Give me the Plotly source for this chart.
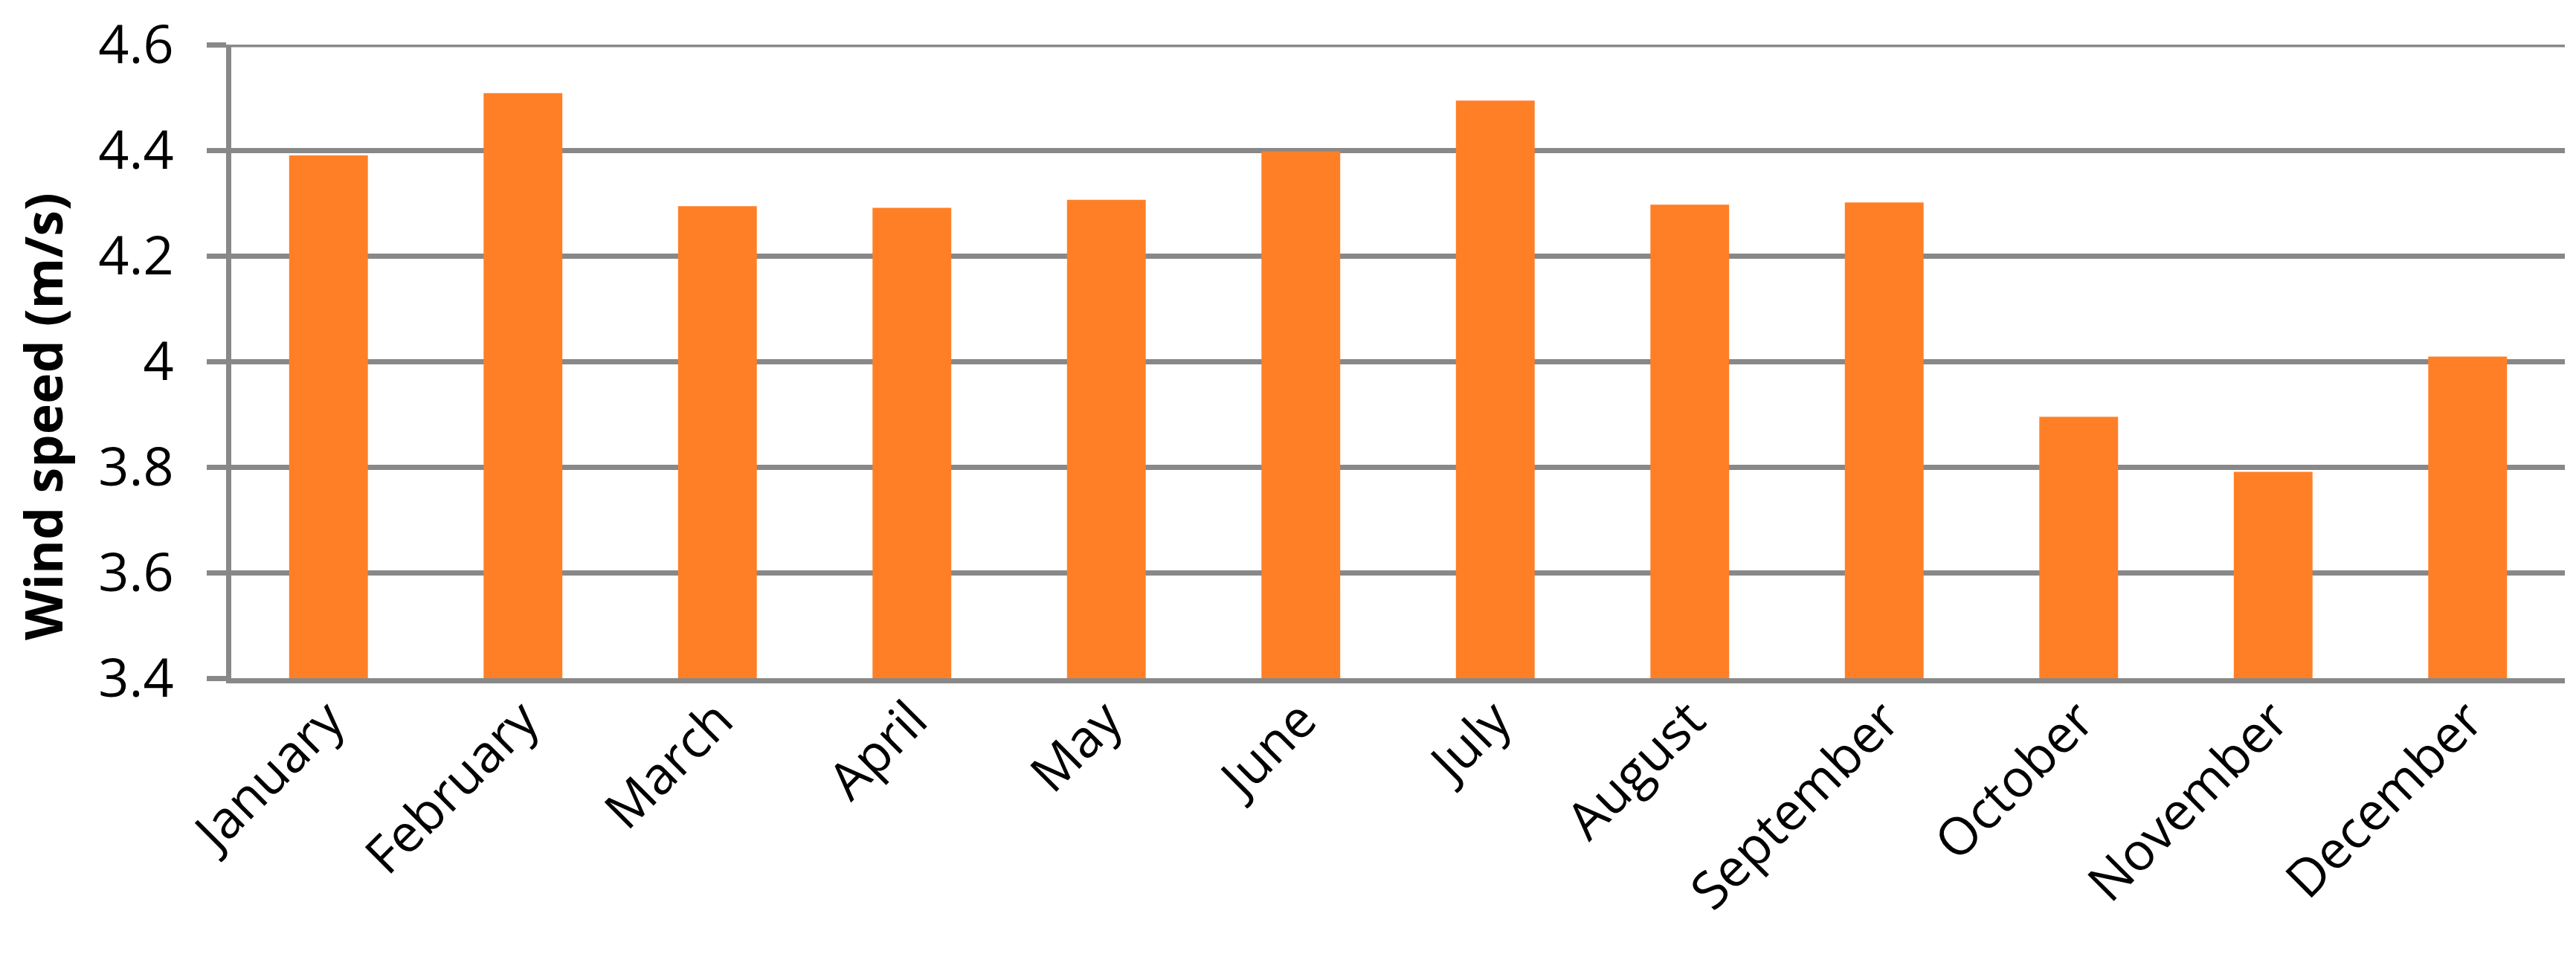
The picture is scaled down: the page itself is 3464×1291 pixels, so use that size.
import plotly.graph_objects as go

meses = ['January', 'February', 'March', 'April', 'May', 'June',
         'July', 'August', 'September', 'October', 'November', 'December']
vento = [4.39, 4.508, 4.294, 4.291, 4.306, 4.398,
         4.494, 4.297, 4.301, 3.895, 3.791, 4.009]
ticks_y = [3.4, 3.6, 3.8, 4.0, 4.2, 4.4, 4.6]
labels_y = ['3.4', '3.6', '3.8', '4', '4.2', '4.4', '4.6']

cinza = '#888888'
laranja = '#FF7F27'
fonte = 'Open Sans'

fig = go.Figure(go.Bar(x=meses, y=[v - 3.4 for v in vento], base=3.4,
                       marker_color=laranja, marker_line_width=0))

fig.update_layout(
    width=3464,
    height=1291,
    margin=dict(l=303, r=23, t=52, b=387, autoexpand=False),
    plot_bgcolor='white',
    paper_bgcolor='white',
    bargap=0.595,
    showlegend=False,
    font=dict(family=fonte, color='black'),
)

fig.update_yaxes(
    range=[ticks_y[0], ticks_y[-1]],
    tickvals=ticks_y,
    ticktext=labels_y,
    showgrid=True,
    gridcolor=cinza,
    gridwidth=7,
    zeroline=False,
    showline=True,
    linecolor=cinza,
    linewidth=7,
    ticks='outside',
    ticklen=26,
    tickwidth=7,
    tickcolor=cinza,
    tickfont=dict(size=72, family=fonte, color='black'),
    ticklabelstandoff=30,
    ticklabeloverflow='allow',
)

fig.update_xaxes(
    showline=True,
    linecolor=cinza,
    linewidth=7,
    showgrid=False,
    ticks='',
    tickangle=-45,
    tickfont=dict(size=70, family=fonte, color='black'),
    ticklabelstandoff=-20,
)

# linha de grade do topo (o plotly some com ela na borda)
fig.add_shape(type='line', xref='paper', yref='y', x0=0, x1=1,
              y0=ticks_y[-1], y1=ticks_y[-1], line=dict(color=cinza, width=7), layer='below')

# titulo do eixo y um pouco abaixo do centro, como no original
fig.add_annotation(
    text='<b>Wind speed (m/s)</b>',
    xref='paper', yref='paper',
    x=-0.081, y=0.413,
    xanchor='center', yanchor='middle',
    textangle=-90,
    showarrow=False,
    font=dict(size=70, family=fonte, color='black'),
)

fig.write_html('out.html')
